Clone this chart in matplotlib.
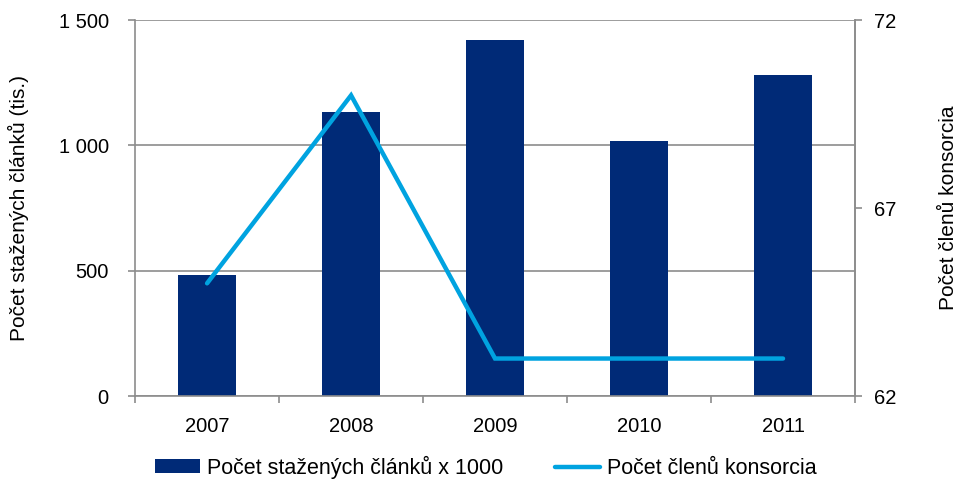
import matplotlib.pyplot as plt
from matplotlib.ticker import FuncFormatter, FixedLocator
import numpy as np

plt.rcParams['font.family'] = ['Liberation Sans', 'DejaVu Sans']

# data
years = ["2007", "2008", "2009", "2010", "2011"]
downloads = [482, 1133, 1420, 1017, 1280]   # tis. stažených článků
members = [65, 70, 63, 63, 63]              # počet členů konsorcia

bar_color = '#002A77'
line_color = '#00A3E0'
gray = '#8C8C8C'

fig = plt.figure(figsize=(9.58, 4.79), dpi=100)
ax = fig.add_axes([0.141, 0.173, 0.7515, 0.785])
ax2 = ax.twinx()

x = np.arange(len(years))
ax.bar(x, downloads, width=0.4, color=bar_color, zorder=2,
       label='Počet stažených článků x 1000')
ax2.plot(x, members, color=line_color, lw=3.2, solid_capstyle='round',
         solid_joinstyle='miter', label='Počet členů konsorcia')

ax.set_xlim(-0.5, len(years) - 0.5)
ax.set_ylim(0, 1500)
ax2.set_ylim(62, 72)

ax.set_yticks([0, 500, 1000, 1500])
ax.yaxis.set_major_formatter(FuncFormatter(lambda v, p: f"{int(v):,}".replace(",", " ")))
ax2.set_yticks([62, 67, 72])

# category labels without marks, marks between categories
ax.set_xticks(x)
ax.set_xticklabels(years)
ax.tick_params(axis='x', which='major', length=0, pad=15)
ax.xaxis.set_minor_locator(FixedLocator(np.arange(-0.5, len(years), 1.0)))
ax.tick_params(axis='x', which='minor', length=5, color=gray, width=1.2)

ax.grid(axis='y', color=gray, lw=1.2, zorder=0)
ax.set_axisbelow(True)

for a in (ax, ax2):
    a.spines['top'].set_visible(False)
    for s in ('left', 'right', 'bottom'):
        a.spines[s].set_color(gray)
        a.spines[s].set_linewidth(1.2)
    a.tick_params(labelsize=14.5, colors='black')
ax.tick_params(axis='y', color=gray, width=1.2, length=5, pad=14)
ax2.tick_params(axis='y', color=gray, width=1.2, length=5, pad=9)
ax2.spines['left'].set_visible(False)
ax2.spines['bottom'].set_visible(False)

ax.set_ylabel('Počet stažených článků (tis.)', fontsize=15)
ax2.set_ylabel('Počet členů konsorcia', fontsize=15)
ax.yaxis.set_label_coords(-0.148, 0.5)
ax2.yaxis.set_label_coords(1.116, 0.5)

h1, l1 = ax.get_legend_handles_labels()
h2, l2 = ax2.get_legend_handles_labels()
fig.legend(h1 + h2, l1 + l2, loc='lower center', ncol=2, frameon=False,
           fontsize=15.5, bbox_to_anchor=(0.507, -0.04), handlelength=2.1,
           handleheight=0.6, columnspacing=2.4, handletextpad=0.3)

fig.savefig('out.png', dpi=100)
